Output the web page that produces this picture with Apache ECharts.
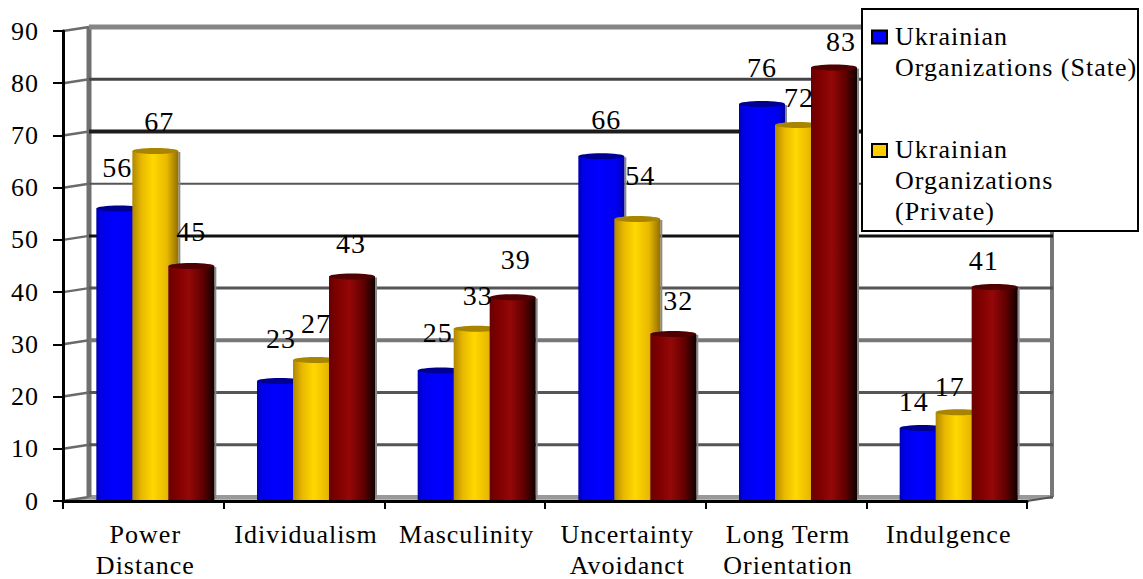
<!DOCTYPE html>
<html><head><meta charset="utf-8">
<style>html,body{margin:0;padding:0;background:#fff}#c{width:1143px;height:579px}#c text{letter-spacing:1px}</style>
<script src="https://cdn.jsdelivr.net/npm/echarts@6/dist/echarts.min.js"></script>
</head><body><div id="c"></div>
<script>
const categories = ['Power\nDistance','Idividualism','Masculinity','Uncertainty\nAvoidanct','Long Term\nOrientation','Indulgence'];
const stateValues = [56,23,25,66,76,14];
const privateValues = [67,27,33,54,72,17];
const thirdValues = [45,43,39,32,83,41];
const yTicks = [0,10,20,30,40,50,60,70,80,90];
const stateName = 'Ukrainian\nOrganizations (State)';
const privateName = 'Ukrainian\nOrganizations\n(Private)';

const FONT = '"Liberation Serif","Times New Roman",serif';
const DEPTH_X = 26, DEPTH_Y = -4;
const BAR_W = 46, BAR_STEP = 36, BAR_SHIFT = 12;
// label nudges relative to each bar's top-centre
const nudgeX = [[-2,1,-3,5,0,-9],[4,0,1,3,1,-9],[0,-1,3,5,7,-11]];
const nudgeY = [[-41,-42,-38,-37,-37,-26],[-30,-37,-33,-44,-28,-26],[-35,-33,-38,-33,-26,-26]];
const wallWidth = {0:4,10:3,20:3,30:4,40:3,50:3,60:2,70:4,80:3,90:5};
const wallColor = {0:'#999',10:'#555',20:'#555',30:'#777',40:'#555',50:'#111',60:'#555',70:'#1c1c1c',80:'#444',90:'#858585'};

const grad = stops => new echarts.graphic.LinearGradient(0,0,1,0,stops.map(s=>({offset:s[0],color:s[1]})));
const palettes = [
  {body:[[0,'#0000b0'],[0.1,'#0000e8'],[0.4,'#0000ff'],[0.85,'#0000f0'],[1,'#0000a0']],top:'#000090',legend:'#0000ff'},
  {body:[[0,'#b08800'],[0.2,'#e8b800'],[0.45,'#ffd800'],[0.75,'#e8b800'],[1,'#907000']],top:'#a88400',legend:'#ffcc00'},
  {body:[[0,'#6a0000'],[0.2,'#800000'],[0.45,'#940808'],[0.75,'#600000'],[1,'#100000']],top:'#500000',legend:'#800000'}
];

function barSeries(name, values, si){
  const pal = palettes[si];
  return {
    name, type:'custom', z:2, clip:false,
    itemStyle:{color:pal.legend},
    encode:{x:0,y:1},
    data: values.map((v,i)=>[i,v]),
    renderItem(params, api){
      const i = api.value(0), v = api.value(1);
      const p = api.coord([i,v]), base = api.coord([i,0])[1];
      const cx = p[0] + BAR_SHIFT + (si-1)*BAR_STEP;
      const x = cx - BAR_W/2, top = p[1];
      return {type:'group', children:[
        {type:'rect', shape:{x:x+BAR_W,y:top+1,width:2,height:base-top-3}, style:{fill:'#8a8a8a'}},
        {type:'rect', shape:{x:x,y:top,width:BAR_W,height:base-top}, style:{fill:grad(pal.body)}},
        {type:'ellipse', shape:{cx:cx,cy:top,rx:BAR_W/2,ry:3}, style:{fill:pal.top}},
        {type:'text', z2:100, x:cx+nudgeX[si][i], y:top+nudgeY[si][i],
         style:{text:String(v),font:'28px '+FONT,fill:'#000',align:'center',verticalAlign:'middle'}}
      ]};
    }
  };
}

const wallSeries = {
  type:'custom', z:1, clip:false, silent:true, legendHoverLink:false,
  encode:{x:0,y:1},
  data: yTicks.map(v=>[0,v]),
  renderItem(params, api){
    const v = api.value(1), cs = params.coordSys;
    const y = api.coord([0,v])[1];
    const x0 = cs.x, x1 = cs.x+cs.width;
    const kids = [
      {type:'line', shape:{x1:x0,y1:y,x2:x0+DEPTH_X,y2:y+DEPTH_Y}, style:{stroke:'#6a6a6a',lineWidth:2.5}},
      {type:'line', shape:{x1:x0+DEPTH_X,y1:y+DEPTH_Y,x2:x1+DEPTH_X,y2:y+DEPTH_Y}, style:{stroke:wallColor[v],lineWidth:wallWidth[v]}}
    ];
    if(v===0){
      const top = cs.y+DEPTH_Y, bot = y+DEPTH_Y;
      kids.unshift({type:'polygon', shape:{points:[[x0,y],[x1,y],[x1+DEPTH_X,bot],[x0+DEPTH_X,bot]]}, style:{fill:'#b5b5b5'}});
      kids.push({type:'line', shape:{x1:x0+DEPTH_X,y1:top,x2:x0+DEPTH_X,y2:bot}, style:{stroke:'#707070',lineWidth:5}});
      kids.push({type:'line', shape:{x1:x1+DEPTH_X-1,y1:top,x2:x1+DEPTH_X-1,y2:bot}, style:{stroke:'#777',lineWidth:4}});
      kids.push({type:'line', shape:{x1:x1,y1:y,x2:x1+DEPTH_X,y2:bot}, style:{stroke:'#555',lineWidth:2}});
    }
    return {type:'group', children:kids};
  }
};

const chart = echarts.init(document.getElementById('c'), null, {renderer:'svg'});
chart.setOption({
  animation:false,
  backgroundColor:'#fff',
  grid:{left:63,right:116,top:31,height:470,outerBoundsMode:'none'},
  xAxis:{type:'category',data:categories,z:5,
    axisLine:{lineStyle:{color:'#000',width:3}},
    axisTick:{show:true,length:8,lineStyle:{color:'#000',width:2}},
    axisLabel:{interval:0,margin:18,fontFamily:FONT,fontSize:26,lineHeight:31,color:'#000',padding:[0,0,0,4]}},
  yAxis:{type:'value',min:0,max:90,interval:10,z:5,
    splitLine:{show:false},
    axisLine:{show:true,lineStyle:{color:'#000',width:3}},
    axisTick:{show:true,length:10,lineStyle:{color:'#000',width:2}},
    axisLabel:{margin:24,fontFamily:FONT,fontSize:26,color:'#000',padding:[3,0,0,0]}},
  legend:{left:871,top:4,padding:0,orient:'vertical',z:10,selectedMode:false,
    itemWidth:15,itemHeight:93,itemGap:34,
    textStyle:{fontFamily:FONT,fontSize:26,lineHeight:31,color:'#000',padding:[0,0,0,3]},
    data:[
      {name:stateName,icon:'path://M0 0M15 93M0 25.5H15V38.5H0Z',itemStyle:{color:palettes[0].legend,borderColor:'#000',borderWidth:2}},
      {name:privateName,icon:'path://M0 0M15 93M0 10H15V23H0Z',itemStyle:{color:palettes[1].legend,borderColor:'#000',borderWidth:2}}
    ]},
  graphic:[{type:'rect',z:9,shape:{x:862,y:9,width:276,height:222},style:{fill:'#fff',stroke:'#000',lineWidth:2}}],
  series:[wallSeries,barSeries(stateName,stateValues,0),barSeries(privateName,privateValues,1),barSeries('Series 3',thirdValues,2)]
});
</script></body></html>
